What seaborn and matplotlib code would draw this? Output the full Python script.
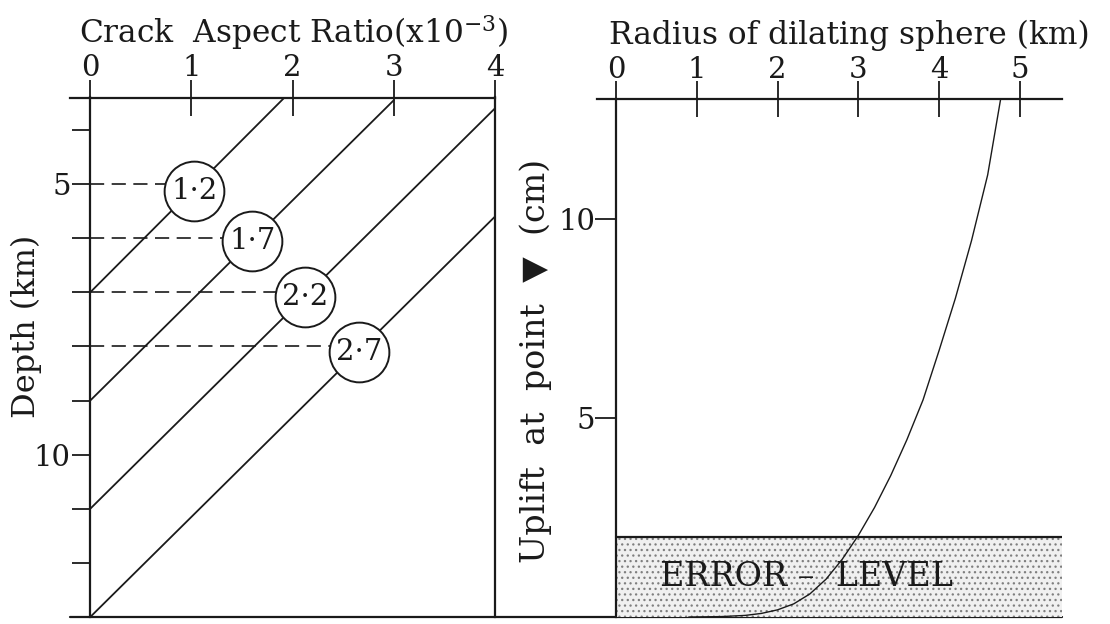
import numpy as np
import pandas as pd
import matplotlib
matplotlib.use("Agg")
import matplotlib.pyplot as plt
import seaborn as sns

# Left panel: crack aspect ratio (x10^-3) against depth (km)
line_start_depth = [7.0, 9.0, 11.0, 13.0]
line_end_ratio = [1.92, 3.0, 4.0, 4.0]
line_end_depth = [3.4, 3.45, 3.6, 5.6]

circle_labels = ["1·2", "1·7", "2·2", "2·7"]
circle_ratio = [1.03, 1.60, 2.12, 2.66]
circle_depth = [5.12, 6.05, 7.08, 8.1]
dash_depth = [5, 6, 7, 8]

depth_ticks = [4, 5, 6, 7, 8, 9, 10, 11, 12, 13]
depth_ticklabels = ["", "5", "", "", "", "", "10", "", "", ""]
ratio_ticks = [0, 1, 2, 3, 4]

# Right panel: uplift at the reference point against radius of dilating sphere
radius_km = [0.9, 1.3, 1.6, 1.8, 2.0, 2.2, 2.4, 2.6, 2.8, 3.0, 3.2, 3.4,
             3.6, 3.8, 4.0, 4.2, 4.4, 4.6, 4.76]
uplift_cm = [0.0, 0.01, 0.04, 0.09, 0.18, 0.33, 0.58, 0.95, 1.45, 2.05, 2.75,
             3.55, 4.45, 5.45, 6.7, 8.0, 9.45, 11.1, 13.0]
error_level = 2.0
radius_ticks = [0, 1, 2, 3, 4, 5]
uplift_ticks = [5, 10]

sns.set_theme(style="white")
plt.rcParams["font.family"] = ["DejaVu Serif", "DejaVu Sans"]
plt.rcParams["mathtext.fontset"] = "dejavuserif"
plt.rcParams["hatch.linewidth"] = 0.9

FS_TICK = 21
FS_TITLE = 22.5
FS_YLAB = 23
LW_AX = 1.6
INK = "#1a1a1a"

fig = plt.figure(figsize=(11.1, 6.24), dpi=100)
W, H = 1110.0, 624.0
axL = fig.add_axes([70 / W, 7 / H, 425 / W, 519.5 / H])
axR = fig.add_axes([597 / W, 7 / H, 465 / W, 517.7 / H])

# ---- left panel ----
rows = []
for i, (d0, xe, de) in enumerate(zip(line_start_depth, line_end_ratio, line_end_depth)):
    rows.append({"line": i, "ratio": 0.0, "depth": d0})
    rows.append({"line": i, "ratio": xe, "depth": de})
lines_df = pd.DataFrame(rows)
sns.lineplot(data=lines_df, x="ratio", y="depth", units="line", estimator=None,
             color=INK, linewidth=1.3, ax=axL, legend=False)

for d, cx in zip(dash_depth, circle_ratio):
    axL.plot([0, cx], [d, d], color=INK, linewidth=1.2, linestyle=(0, (8.5, 4.5)))

sns.scatterplot(x=circle_ratio, y=circle_depth, s=1850, marker="o",
                facecolor="white", edgecolor=INK, linewidth=1.4, zorder=4,
                ax=axL, legend=False)
for lab, cx, cy in zip(circle_labels, circle_ratio, circle_depth):
    axL.text(cx, cy, lab, ha="center", va="center", fontsize=FS_TICK, color=INK, zorder=5)

axL.set_xlim(-0.2, 4.0)
axL.set_ylim(13, 3.4)
axL.xaxis.tick_top()
axL.xaxis.set_label_position("top")
axL.set_xticks(ratio_ticks)
axL.set_xticklabels([str(t) for t in ratio_ticks])
axL.set_yticks(depth_ticks)
axL.set_yticklabels(depth_ticklabels)
axL.tick_params(axis="x", direction="inout", length=26, width=1.3, pad=-2,
                labelsize=FS_TICK, colors=INK, top=True, bottom=False)
axL.tick_params(axis="y", direction="out", length=13, width=1.3, pad=1,
                labelsize=FS_TICK, colors=INK, left=True)
axL.set_xlabel("Crack  Aspect Ratio(x10$^{-3}$)", fontsize=FS_TITLE, color=INK)
axL.xaxis.set_label_coords(0.525, (617 - 43) / 519.5)
axL.set_ylabel("Depth (km)", fontsize=FS_YLAB, color=INK, va="center")
axL.yaxis.set_label_coords(-0.102, 0.56)

for side in ["top", "left", "right"]:
    axL.spines[side].set_visible(True)
    axL.spines[side].set_color(INK)
    axL.spines[side].set_linewidth(LW_AX)
axL.spines["left"].set_position(("data", 0))
axL.spines["bottom"].set_visible(False)
# shared baseline running under both panels
axL.axhline(13, xmin=0, xmax=(1062 - 70) / 425, color=INK, linewidth=LW_AX,
            clip_on=False, zorder=6)

# ---- right panel ----
axR.fill_between([0, 5.52], 0, error_level, facecolor="#f0f0f0",
                 edgecolor="#7f7f7f", hatch="...", linewidth=0, zorder=1)
axR.axhline(error_level, xmin=0.235 / 5.755, xmax=1, color=INK, linewidth=LW_AX, zorder=3)
axR.text(2.36, 1.0, "ERROR –  LEVEL", ha="center", va="center", fontsize=24,
         color=INK, zorder=4)
sns.lineplot(x=radius_km, y=uplift_cm, sort=False, color=INK, linewidth=1.0,
             ax=axR, zorder=5)

axR.set_xlim(-0.235, 5.52)
axR.set_ylim(0, 13)
axR.xaxis.tick_top()
axR.xaxis.set_label_position("top")
axR.set_xticks(radius_ticks)
axR.set_xticklabels([str(t) for t in radius_ticks])
axR.set_yticks(uplift_ticks)
axR.set_yticklabels([str(t) for t in uplift_ticks])
axR.tick_params(axis="x", direction="inout", length=26, width=1.3, pad=-2,
                labelsize=FS_TICK, colors=INK, top=True, bottom=False)
axR.tick_params(axis="y", direction="out", length=15, width=1.3, pad=0,
                labelsize=FS_TICK, colors=INK, left=True)
axR.set_xlabel("Radius of dilating sphere (km)", fontsize=FS_TITLE, color=INK)
axR.xaxis.set_label_coords(0.542, (617 - 44) / 517.7)
axR.set_ylabel("Uplift  at  point  ▼  (cm)", fontsize=24, color=INK, va="center")
axR.yaxis.set_label_coords(-0.132, 0.494)

for side in ["top", "left"]:
    axR.spines[side].set_visible(True)
    axR.spines[side].set_color(INK)
    axR.spines[side].set_linewidth(LW_AX)
axR.spines["left"].set_position(("data", 0))
axR.spines["right"].set_visible(False)
axR.spines["bottom"].set_visible(False)

for ax in (axL, axR):
    ax.set_facecolor("none")
    ax.grid(False)

fig.savefig("out.png", dpi=100, facecolor="white")
